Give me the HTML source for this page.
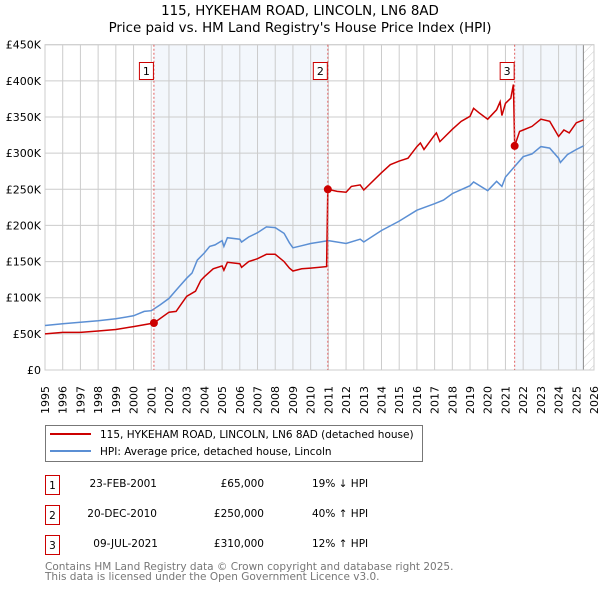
<!DOCTYPE html>
<html><head><meta charset="utf-8"><style>
body{margin:0;background:#fff;width:600px;height:590px;overflow:hidden;font-family:"DejaVu Sans","Liberation Sans",sans-serif}
svg text{font-family:"DejaVu Sans","Liberation Sans",sans-serif}
</style></head><body>
<svg id="chart" width="600" height="590" xmlns="http://www.w3.org/2000/svg">
<defs><pattern id="hatch" width="6" height="6" patternUnits="userSpaceOnUse" patternTransform="rotate(45)"><line x1="0" y1="0" x2="0" y2="6" stroke="#ccc" stroke-width="1"/></pattern></defs>
<text x="300" y="15" text-anchor="middle" font-size="13.4">115, HYKEHAM ROAD, LINCOLN, LN6 8AD</text>
<text x="300" y="32" text-anchor="middle" font-size="13.4">Price paid vs. HM Land Registry's House Price Index (HPI)</text>
<g id="bg"></g><g id="grid"></g><g id="yt"></g><g id="xt"></g><g id="series"></g><g id="marks"></g>
<g>
<rect x="45.5" y="425.5" width="377" height="36" fill="#fff" stroke="#777"/>
<line x1="50" y1="434" x2="91" y2="434" stroke="#cc0000" stroke-width="2"/>
<text x="100" y="438" font-size="10.5">115, HYKEHAM ROAD, LINCOLN, LN6 8AD (detached house)</text>
<line x1="50" y1="451" x2="91" y2="451" stroke="#5b8fd4" stroke-width="2"/>
<text x="100" y="455" font-size="10.5">HPI: Average price, detached house, Lincoln</text>
</g>
<g font-size="10.5">
<rect x="45.5" y="475.5" width="14" height="19" fill="#fff" stroke="#cc0000"/><text x="52.5" y="489" text-anchor="middle">1</text>
<text x="157" y="487" text-anchor="end">23-FEB-2001</text><text x="264" y="487" text-anchor="end">£65,000</text><text x="312" y="487">19% ↓ HPI</text>
<rect x="45.5" y="505.5" width="14" height="19" fill="#fff" stroke="#cc0000"/><text x="52.5" y="519" text-anchor="middle">2</text>
<text x="157" y="517" text-anchor="end">20-DEC-2010</text><text x="264" y="517" text-anchor="end">£250,000</text><text x="312" y="517">40% ↑ HPI</text>
<rect x="45.5" y="535.5" width="14" height="19" fill="#fff" stroke="#cc0000"/><text x="52.5" y="549" text-anchor="middle">3</text>
<text x="158" y="547" text-anchor="end">09-JUL-2021</text><text x="264" y="547" text-anchor="end">£310,000</text><text x="312" y="547">12% ↑ HPI</text>
</g>
<text x="45" y="570" font-size="10.5" fill="#777">Contains HM Land Registry data © Crown copyright and database right 2025.</text>
<text x="45" y="580" font-size="10.5" fill="#777">This data is licensed under the Open Government Licence v3.0.</text>
</svg>
<script>
const years=[1995,1996,1997,1998,1999,2000,2001,2002,2003,2004,2005,2006,2007,2008,2009,2010,2011,2012,2013,2014,2015,2016,2017,2018,2019,2020,2021,2022,2023,2024,2025,2026];
const yTicks=[0,50,100,150,200,250,300,350,400,450];
const hpiT=[1995,1996,1997,1998,1999,2000,2000.6,2001,2001.5,2002,2002.5,2003,2003.3,2003.6,2004,2004.3,2004.6,2005,2005.1,2005.3,2006,2006.1,2006.5,2007,2007.5,2008,2008.5,2008.8,2009,2009.5,2010,2011,2012,2012.8,2013,2014,2015,2016,2017,2017.5,2018,2019,2019.2,2020,2020.5,2020.8,2021,2021.5,2022,2022.5,2023,2023.5,2024,2024.1,2024.5,2025,2025.4];
const hpiV=[61.5,64,66,68,71,75,81,82,90,99,113,127,134,152,162,171,173,179,171,183,181,177,184,190,198,197,189,176,169,172,175,179,175,181,177,193,206,221,230,235,244,255,260,248,261,254,267,281,295,299,309,307,293,287,298,305,310];
const priceT=[1995,1996,1997,1998,1999,2000,2001.15,2002,2002.4,2003,2003.5,2003.8,2004,2004.5,2005,2005.1,2005.3,2006,2006.1,2006.5,2007,2007.5,2008,2008.5,2008.8,2009,2009.5,2010,2010.9,2010.97,2011.5,2012,2012.3,2012.8,2013,2014,2014.5,2015,2015.5,2016,2016.2,2016.4,2017,2017.1,2017.3,2018,2018.5,2019,2019.2,2019.5,2020,2020.5,2020.7,2020.8,2021,2021.3,2021.45,2021.52,2021.8,2022,2022.5,2023,2023.5,2024,2024.3,2024.6,2025,2025.4];
const priceV=[50,52,52,54,56,60,65,80,81,102,109,124,129,140,144,138,149,147,142,150,154,160,160,150,141,137,140,141,143,250,247,246,254,256,249,273,284,289,293,309,314,305,325,328,316,333,344,351,362,356,347,360,371,352,369,376,395,310,330,332,337,347,344,323,332,328,342,346];
const saleT=[2001.15,2010.97,2021.52];
const saleV=[65,250,310];
const saleLabels=["1","2","3"];
const X0=45,X1=594,Y0=370,Y1=44.7;
const sx=t=>X0+(t-1995)*(X1-X0)/31;
const sy=v=>Y0-(v/450)*(Y0-Y1);
const NS="http://www.w3.org/2000/svg";
function mk(p,tag,a){const e=document.createElementNS(NS,tag);for(const k in a)e.setAttribute(k,a[k]);document.getElementById(p).appendChild(e);return e;}
let e;
e=mk('bg','rect',{x:sx(saleT[0]),y:Y1,width:sx(saleT[1])-sx(saleT[0]),height:Y0-Y1,fill:'#eef3fb',opacity:0.7});


e=mk('bg','rect',{x:sx(saleT[2]),y:Y1,width:sx(2025.4)-sx(saleT[2]),height:Y0-Y1,fill:'#eef3fb',opacity:0.7});


e=mk('bg','rect',{x:sx(2025.4),y:Y1,width:X1-sx(2025.4),height:Y0-Y1,fill:'url(#hatch)'});


years.forEach(y=>{
 e=mk('grid','line',{x1:sx(y),x2:sx(y),y1:Y1,y2:Y0,stroke:'#ccc','stroke-width':1});
 
 
 e=mk('xt','text',{transform:`translate(${sx(y)+4},414) rotate(-90)`,'font-size':11});
 e.textContent=y;
 
 
});
yTicks.forEach(v=>{
 e=mk('grid','line',{x1:X0,x2:X1,y1:sy(v),y2:sy(v),stroke:'#ccc','stroke-width':1});
 
 
 e=mk('yt','text',{x:41,y:sy(v)+4,'text-anchor':'end','font-size':11});
 e.textContent=v===0?'£0':'£'+v+'K';
 
 
});
e=mk('grid','line',{x1:sx(2025.4),x2:sx(2025.4),y1:Y1,y2:Y0,stroke:'#888','stroke-width':1});


function path(T,V){return T.map((t,i)=>(i?'L':'M')+sx(t).toFixed(1)+','+sy(V[i]).toFixed(1)).join('');}
e=mk('series','path',{d:path(hpiT,hpiV),fill:'none',stroke:'#5b8fd4','stroke-width':1.5});


e=mk('series','path',{d:path(priceT,priceV),fill:'none',stroke:'#cc0000','stroke-width':1.5});


saleT.forEach((t,i)=>{
 e=mk('marks','line',{x1:sx(t),x2:sx(t),y1:Y1,y2:Y0,stroke:'#e06060','stroke-width':1,'stroke-dasharray':'2,2'});
 
 
 e=mk('marks','circle',{cx:sx(t),cy:sy(saleV[i]),r:4,fill:'#cc0000'});
 
 
 e=mk('marks','rect',{x:sx(t)-14.5,y:62.5,width:14,height:17,fill:'#fff',stroke:'#cc0000'});
 
 
 e=mk('marks','text',{x:sx(t)-7.5,y:75,'text-anchor':'middle','font-size':11});
 e.textContent=saleLabels[i];
 
 
});
e=mk('grid','rect',{x:X0,y:Y1,width:X1-X0,height:Y0-Y1,fill:'none',stroke:'#ccc'});


</script>
</body></html>
